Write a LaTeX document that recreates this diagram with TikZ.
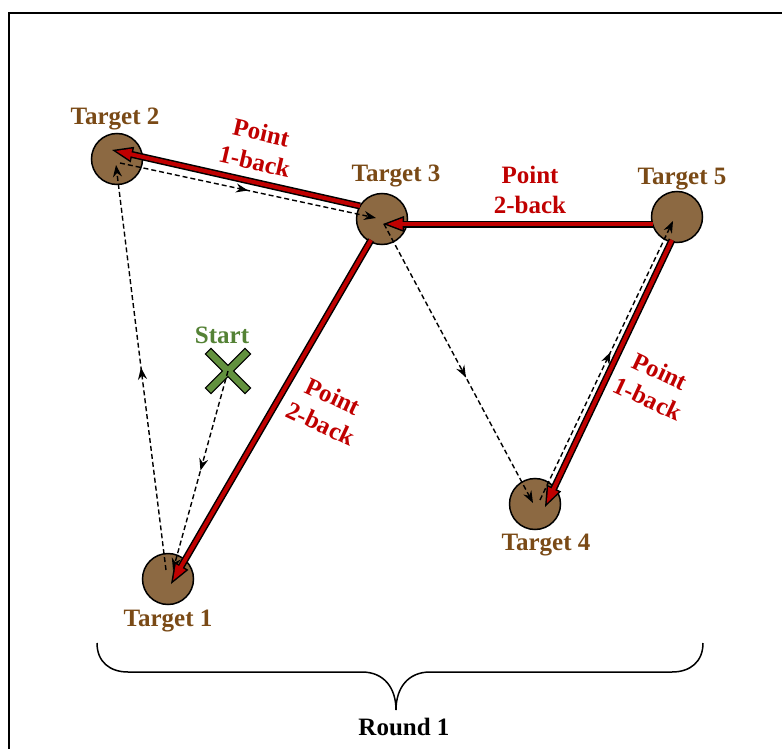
\documentclass[tikz,border=0pt]{standalone}
\usepackage{fontspec}
\setmainfont{Liberation Serif}
\usetikzlibrary{calc,arrows.meta,decorations.markings}
\definecolor{tgtfill}{RGB}{140,105,66}
\definecolor{tgttext}{RGB}{122,74,22}
\definecolor{ptred}{RGB}{192,0,0}
\definecolor{stgreen}{RGB}{84,130,53}
\definecolor{xgreen}{RGB}{98,145,62}
\tikzset{
 target/.style={circle, draw=black, line width=1.5pt, fill=tgtfill, minimum size=51pt, inner sep=0pt},
 tlabel/.style={text=tgttext, font=\fontsize{25}{30}\selectfont\bfseries, anchor=base, inner sep=0pt},
 plabel/.style={text=ptred, font=\fontsize{25}{30}\selectfont\bfseries, align=center, inner sep=0pt},
 dasharr/.style={draw=black, line width=1.4pt, dash pattern=on 5pt off 3pt,
   -{Stealth[length=12pt,width=9pt]}, postaction={decorate},
   decoration={markings, mark=at position #1 with {\arrow{Stealth[length=12pt,width=9pt]}}}},
 dasharr/.default=0.5,
}
\newcommand\rarrow[2]{%
 \path (#1) coordinate (ra) (#2) coordinate (rb);
 \draw[line width=7pt, black] (ra) -- ($(rb)!18pt!(ra)$);
 \fill[black] (rb) -- ($(rb)!21pt!(ra)!8pt!90:(rb)$) -- ($(rb)!21pt!(ra)!8pt!-90:(rb)$) -- cycle;
 \draw[line width=4pt, ptred] (ra) -- ($(rb)!17pt!(ra)$);
 \fill[ptred] ($(rb)!4.2pt!(ra)$) -- ($(rb)!19.5pt!(ra)!5.8pt!90:(rb)$) -- ($(rb)!19.5pt!(ra)!5.8pt!-90:(rb)$) -- cycle;
}
\begin{document}
\begin{tikzpicture}[x=1pt,y=-1pt]
\useasboundingbox (0,0) rectangle (782,749);
\clip (0,0) rectangle (782,749);
\fill[white] (0,0) rectangle (782,749);
\draw[line width=2pt] (9,13) rectangle (800,775);

% targets
\node[target] (T1) at (168,579) {};
\node[target] (T2) at (117,159) {};
\node[target] (T3) at (382,219) {};
\node[target] (T4) at (535,504) {};
\node[target] (T5) at (677,217) {};

\node[tlabel] (L1) at (168,626) {Target 1};
\node[tlabel] (L2) at (115,125) {Target 2};
\node[tlabel] (L3) at (396,182) {Target 3};
\node[tlabel] (L4) at (546,550) {Target 4};
\node[tlabel] (L5) at (682,185) {Target 5};

% start
\node[inner sep=0pt, minimum size=1pt] (S) at (228,371) {};
\filldraw[fill=xgreen, draw=black, line width=1pt, shift={(228,371)}, rotate=45]
  (4,4) -- (28,4) -- (28,-4) -- (4,-4) -- (4,-28) -- (-4,-28) -- (-4,-4) -- (-28,-4)
  -- (-28,4) -- (-4,4) -- (-4,28) -- (4,28) -- cycle;
\node[tlabel, text=stgreen] (LS) at (222,343) {Start};

% dashed path
\draw[dasharr] (S.center) -- ($(T1.center)+(5,-9)$);
\draw[dasharr] ($(T1.center)+(-2,-9)$) -- ($(T2.center)+(-1,6)$);
\draw[dasharr] ($(T2.center)+(3,4)$) -- ($(T3.center)+(-6,-1)$);
\draw[dasharr=0.55] ($(T3.center)+(2,5)$) -- ($(T4.center)+(-2,-1)$);
\draw[dasharr=0.53] ($(T4.center)+(5,-4)$) -- ($(T5.center)+(-4,4)$);

% red point-back arrows
\rarrow{$(T3.center)+(-22,-13)$}{$(T2.center)+(-5,-9)$}
\rarrow{$(T5.center)+(-24,7)$}{$(T3.center)+(1,5)$}
\rarrow{$(T3.center)+(-11,21)$}{$(T1.center)+(3,5)$}
\rarrow{$(T5.center)+(-5,23)$}{$(T4.center)+(10,3)$}

\node[plabel, rotate=-13] (P1) at (258,147) {Point\\1-back};
\node[plabel] (P2) at (530,190) {Point\\2-back};
\node[plabel, rotate=-25] (P3) at (327,410) {Point\\2-back};
\node[plabel, rotate=-25] (P4) at (654,385) {Point\\1-back};

% brace
\draw[line width=1.5pt] (97,643) .. controls (97,662) and (110,672) .. (128,672) -- (362,672)
  .. controls (384,672) and (396,688) .. (396,710)
  .. controls (396,688) and (408,672) .. (430,672) -- (672,672)
  .. controls (690,672) and (703,662) .. (703,643);
\node[tlabel, text=black] (R) at (404,735) {Round 1};
\end{tikzpicture}
\end{document}
